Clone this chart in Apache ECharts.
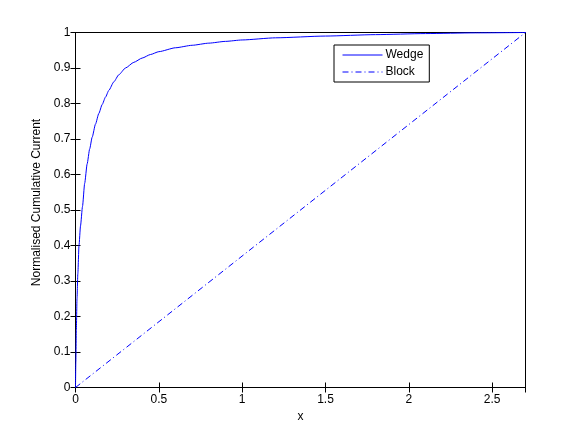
<!DOCTYPE html>
<html>
<head>
<meta charset="utf-8">
<script src="https://cdn.jsdelivr.net/npm/echarts@6/dist/echarts.min.js"></script>
<style>
  html, body { margin: 0; padding: 0; background: #fff; }
  #chart { width: 581px; height: 437px; }
</style>
</head>
<body>
<div id="chart"></div>
<script>
// values
const wedgeX = [0, 0.002, 0.005, 0.009, 0.014, 0.021, 0.03, 0.042, 0.055, 0.07, 0.085, 0.1, 0.12, 0.14, 0.16, 0.18, 0.2, 0.23, 0.26, 0.3, 0.35, 0.4, 0.45, 0.5, 0.6, 0.7, 0.8, 0.9, 1.0, 1.2, 1.5, 1.8, 2.1, 2.4, 2.7];
const wedgeY = [0, 0.07, 0.16, 0.25, 0.32, 0.4, 0.455, 0.51, 0.575, 0.63, 0.672, 0.705, 0.742, 0.772, 0.797, 0.818, 0.837, 0.861, 0.881, 0.9, 0.916, 0.928, 0.938, 0.946, 0.957, 0.964, 0.97, 0.975, 0.979, 0.985, 0.99, 0.994, 0.997, 0.999, 1];
const blockX = [0, 2.7];
const blockY = [0, 1];

const font = 'Liberation Sans, Arial, Helvetica, sans-serif';

function pairs(xs, ys) {
  return xs.map(function (x, i) { return [x, ys[i]]; });
}

const myChart = echarts.init(document.getElementById('chart'));

const plainAxis = {
  axisLine: { show: true, lineStyle: { color: '#000', width: 1 } },
  axisTick: { show: true, inside: true, length: 5, lineStyle: { color: '#000' } },
  splitLine: { show: false }
};

const option = {
  animation: false,
  backgroundColor: '#fff',
  textStyle: { fontFamily: font },
  grid: {
    left: 75.5,
    right: 55.5,
    top: 32.5,
    bottom: 49.5,
    show: true,
    borderColor: '#000',
    borderWidth: 1,
    backgroundColor: '#fff'
  },
  legend: {
    orient: 'vertical',
    left: 334,
    top: 45,
    width: 97,
    padding: [4, 6, 4, 8],
    itemWidth: 40,
    itemHeight: 14,
    itemGap: 5,
    backgroundColor: '#fff',
    borderColor: '#000',
    borderWidth: 1,
    borderRadius: 0,
    itemStyle: { opacity: 0 },
    lineStyle: { width: 1 },
    textStyle: { fontFamily: font, fontSize: 12, color: '#000', padding: [0, 0, 0, -2] },
    data: ['Wedge', 'Block']
  },
  xAxis: [
    Object.assign({}, plainAxis, {
      type: 'value',
      min: 0,
      max: 2.7,
      interval: 0.5,
      position: 'bottom',
      name: 'x',
      nameLocation: 'middle',
      nameGap: 20,
      nameTextStyle: { fontFamily: font, fontSize: 12, color: '#000' },
      axisLabel: { fontFamily: font, fontSize: 12, color: '#000', margin: 6, showMaxLabel: false }
    }),
    Object.assign({}, plainAxis, {
      type: 'value',
      min: 0,
      max: 2.7,
      interval: 0.5,
      position: 'top',
      axisLabel: { show: false }
    })
  ],
  yAxis: [
    Object.assign({}, plainAxis, {
      type: 'value',
      min: 0,
      max: 1,
      interval: 0.1,
      position: 'left',
      name: 'Normalised Cumulative Current',
      nameLocation: 'middle',
      nameGap: 32,
      nameTextStyle: { fontFamily: font, fontSize: 12, color: '#000', padding: [0, 0, 0, 15] },
      axisLabel: { fontFamily: font, fontSize: 12, color: '#000', margin: 5 }
    }),
    Object.assign({}, plainAxis, {
      type: 'value',
      min: 0,
      max: 1,
      interval: 0.1,
      position: 'right',
      axisLabel: { show: false }
    })
  ],
  series: [
    {
      name: 'Wedge',
      type: 'line',
      symbol: 'none',
      smooth: 0.2,
      smoothMonotone: 'x',
      lineStyle: { color: '#0000ff', width: 1 },
      itemStyle: { color: '#0000ff' },
      data: pairs(wedgeX, wedgeY)
    },
    {
      name: 'Block',
      type: 'line',
      symbol: 'none',
      lineStyle: { color: '#0000ff', width: 1, type: [6, 3, 1, 3] },
      itemStyle: { color: '#0000ff' },
      data: pairs(blockX, blockY)
    }
  ]
};

myChart.setOption(option);
</script>
</body>
</html>
